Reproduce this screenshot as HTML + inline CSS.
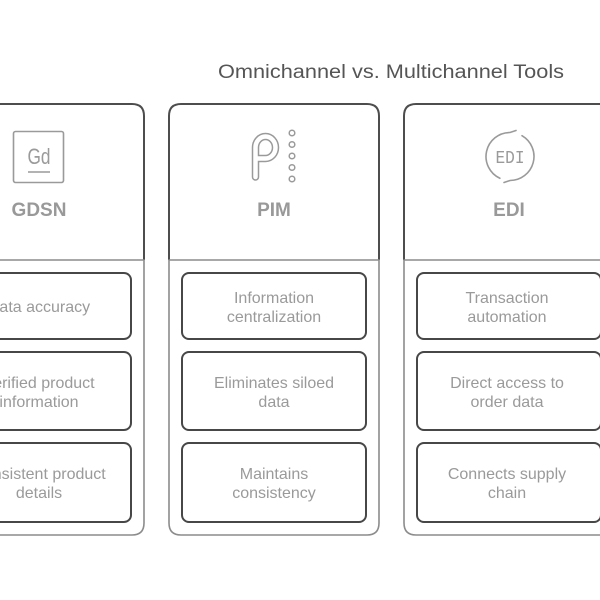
<!DOCTYPE html>
<html>
<head>
<meta charset="utf-8">
<style>
html,body{margin:0;padding:0;background:#fff;}
svg{display:block;}
text{font-family:"Liberation Sans",Arial,sans-serif;}
</style>
</head>
<body>
<svg width="600" height="600" viewBox="0 0 600 600" xmlns="http://www.w3.org/2000/svg">
<rect width="600" height="600" fill="#fff"/>
<text x="391" y="78" font-size="19" fill="#555" text-anchor="middle" textLength="346" lengthAdjust="spacingAndGlyphs">Omnichannel vs. Multichannel Tools</text>

<!-- Column shapes -->
<g fill="none">
  <path d="M-66,535 V116 Q-66,104 -54,104 H132 Q144,104 144,116 V260" stroke="#4d4d4d" stroke-width="2"/>
  <path d="M-66,260 H144 V523 Q144,535 132,535 H-54" stroke="#8c8c8c" stroke-width="1.6"/>
  <path d="M169,260 V116 Q169,104 181,104 H367 Q379,104 379,116 V260" stroke="#4d4d4d" stroke-width="2"/>
  <path d="M169,260 H379 V523 Q379,535 367,535 H181 Q169,535 169,523 Z" stroke="#8c8c8c" stroke-width="1.6"/>
  <path d="M404,260 V116 Q404,104 416,104 H602 Q614,104 614,116 V260" stroke="#4d4d4d" stroke-width="2"/>
  <path d="M404,260 H614 V523 Q614,535 602,535 H416 Q404,535 404,523 Z" stroke="#8c8c8c" stroke-width="1.6"/>
</g>

<!-- Inner boxes -->
<g fill="#fff" stroke="#474747" stroke-width="2">
  <rect x="-53" y="273" width="184" height="66" rx="7"/>
  <rect x="-53" y="352" width="184" height="78" rx="7"/>
  <rect x="-53" y="443" width="184" height="79" rx="7"/>
  <rect x="182" y="273" width="184" height="66" rx="7"/>
  <rect x="182" y="352" width="184" height="78" rx="7"/>
  <rect x="182" y="443" width="184" height="79" rx="7"/>
  <rect x="417" y="273" width="184" height="66" rx="7"/>
  <rect x="417" y="352" width="184" height="78" rx="7"/>
  <rect x="417" y="443" width="184" height="79" rx="7"/>
</g>

<!-- Headers -->
<g font-size="19" font-weight="bold" fill="#999" text-anchor="middle">
  <text x="39" y="216">GDSN</text>
  <text x="274" y="216">PIM</text>
  <text x="509" y="216">EDI</text>
</g>

<!-- GDSN icon -->
<rect x="13.5" y="131.5" width="50" height="51" rx="2" fill="none" stroke="#9a9a9a" stroke-width="1.6"/>
<text x="39" y="164" font-size="22" fill="#9a9a9a" text-anchor="middle" textLength="23" lengthAdjust="spacingAndGlyphs">Gd</text>
<line x1="28" y1="172" x2="50" y2="172" stroke="#9a9a9a" stroke-width="1.6"/>

<!-- PIM icon -->
<path d="M255.5,177 V147.5 A10,11 0 0 1 275.5,147.5 A10,11 0 0 1 265.5,158.5 H256" fill="none" stroke="#9a9a9a" stroke-width="7.5" stroke-linejoin="round" stroke-linecap="round"/>
<path d="M255.5,177 V147.5 A10,11 0 0 1 275.5,147.5 A10,11 0 0 1 265.5,158.5 H256" fill="none" stroke="#fff" stroke-width="4.5" stroke-linejoin="round" stroke-linecap="round"/>
<g fill="none" stroke="#9a9a9a" stroke-width="1.5">
  <circle cx="292" cy="133" r="2.8"/>
  <circle cx="292" cy="144.5" r="2.8"/>
  <circle cx="292" cy="156" r="2.8"/>
  <circle cx="292" cy="167.5" r="2.8"/>
  <circle cx="292" cy="179" r="2.8"/>
</g>

<!-- EDI icon -->
<g fill="none" stroke="#9a9a9a" stroke-width="1.6" stroke-linecap="round">
  <path d="M499.86,178.25 A24,24 0 0 1 510,132.5 L516,130.5"/>
  <path d="M522,135.72 A24,24 0 0 1 510,180.5 L504,182.5"/>
</g>
<text x="510" y="163" font-size="18" fill="#9a9a9a" text-anchor="middle" textLength="29" lengthAdjust="spacingAndGlyphs" style="font-family:'Liberation Mono','DejaVu Sans Mono',monospace">EDI</text>

<!-- Item texts -->
<g font-size="16" fill="#9a9a9a" text-anchor="middle">
  <text x="39" y="312">Data accuracy</text>
  <text x="39" y="388">Verified product</text>
  <text x="39" y="407">information</text>
  <text x="39" y="479">Consistent product</text>
  <text x="39" y="498">details</text>

  <text x="274" y="303">Information</text>
  <text x="274" y="322">centralization</text>
  <text x="274" y="388">Eliminates siloed</text>
  <text x="274" y="407">data</text>
  <text x="274" y="479">Maintains</text>
  <text x="274" y="498">consistency</text>

  <text x="507" y="303">Transaction</text>
  <text x="507" y="322">automation</text>
  <text x="507" y="388">Direct access to</text>
  <text x="507" y="407">order data</text>
  <text x="507" y="479">Connects supply</text>
  <text x="507" y="498">chain</text>
</g>
</svg>
</body>
</html>
